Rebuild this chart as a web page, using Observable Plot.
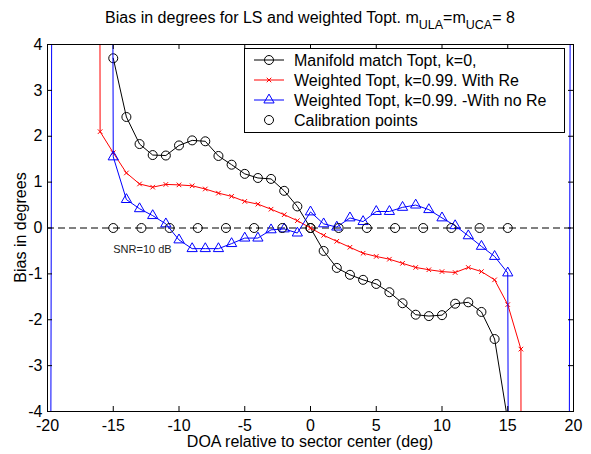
<!DOCTYPE html>
<html><head><meta charset="utf-8">
<script src="https://cdn.jsdelivr.net/npm/d3@7"></script>
<script src="https://cdn.jsdelivr.net/npm/@observablehq/plot@0.6"></script>
<style>body{margin:0;background:#fff}#chart{width:591px;height:454px}</style>
</head><body><div id="chart"></div>
<script>
// ---- data ----
const doaManifold = [-15,-14,-13,-12,-11,-10,-9,-8,-7,-6,-5,-4,-3,-2,-1,0,1,2,3,4,5,6,7,8,9,10,11,12,13,14,15];
const biasManifold = [3.70,2.42,1.83,1.59,1.58,1.80,1.91,1.89,1.57,1.38,1.18,1.09,1.07,0.81,0.47,0,-0.50,-0.87,-1.02,-1.13,-1.22,-1.40,-1.64,-1.89,-1.92,-1.90,-1.65,-1.62,-1.83,-2.42,-4.2];

const doaWithRe = [-17,-16,-15,-14,-13,-12,-11,-10,-9,-8,-7,-6,-5,-4,-3,-2,-1,0,1,2,3,4,5,6,7,8,9,10,11,12,13,14,15,16,17];
const biasWithRe = [200,2.10,1.64,1.20,0.96,0.89,0.95,0.94,0.92,0.85,0.76,0.69,0.58,0.52,0.41,0.29,0.16,0,-0.16,-0.29,-0.42,-0.55,-0.62,-0.68,-0.77,-0.86,-0.91,-0.95,-0.97,-0.86,-0.95,-1.13,-1.67,-2.64,-200];

const doaNoRe = [-20,-19,-18,-17,-16,-15,-14,-13,-12,-11,-10,-9,-8,-7,-6,-5,-4,-3,-2,-1,0,1,2,3,4,5,6,7,8,9,10,11,12,13,14,15,16,17,18,19,20];
const biasNoRe = [-40,100,100,100,100,1.55,0.62,0.42,0.27,0.09,-0.26,-0.45,-0.45,-0.45,-0.34,-0.22,-0.22,-0.04,-0.02,-0.11,0.35,0.09,0.02,0.22,0.14,0.36,0.36,0.45,0.50,0.40,0.22,0.05,-0.17,-0.40,-0.62,-0.98,-100,-100,-100,-100,40];

const doaCalib = [-15,-12.857,-10.714,-8.571,-6.429,-4.286,-2.143,0,2.143,4.286,6.429,8.571,10.714,12.857,15];
const biasCalib = [0,0,0,0,0,0,0,0,0,0,0,0,0,0,0];

const xTicks = [-20,-15,-10,-5,0,5,10,15,20];
const yTicks = [-4,-3,-2,-1,0,1,2,3,4];
const seriesNames = ["Manifold match Topt, k=0,","Weighted Topt, k=0.99. With Re","Weighted Topt, k=0.99. -With no Re","Calibration points"];
const noteText = ["SNR=10 dB"];
const noteX = [-15];
const noteY = [-0.47];

// ---- tables ----
const zip = (xs, ys) => xs.map((x, i) => ({x, y: ys[i]}));
const manifold = zip(doaManifold, biasManifold);
const withRe = zip(doaWithRe, biasWithRe);
const noRe = zip(doaNoRe, biasNoRe);
const calib = zip(doaCalib, biasCalib);
const note = noteText.map((t, i) => ({t, x: noteX[i], y: noteY[i]}));

const W = 591, H = 454, mL = 47, mR = 18, mT = 44, mB = 43;
const fw = W - mL - mR, fh = H - mT - mB, tk = 5;
const font = "'Liberation Sans', Arial, Helvetica, sans-serif";
const fmt = d => String(d);

const chart = Plot.plot({
  width: W, height: H,
  marginLeft: mL, marginRight: mR, marginTop: mT, marginBottom: mB,
  style: {fontFamily: font, fontSize: "16px", background: "white", color: "black", overflow: "visible"},
  x: {domain: [-20, 20], label: null},
  y: {domain: [-4, 4], label: null},
  marks: [
    Plot.ruleY([0], {stroke: "black", strokeWidth: 1, strokeDasharray: "7,4"}),
    Plot.line(manifold, {x: "x", y: "y", stroke: "black", strokeWidth: 1, clip: true}),
    Plot.dot(manifold, {x: "x", y: "y", r: 4.5, stroke: "black", fill: "none", strokeWidth: 1, clip: true}),
    Plot.line(withRe, {x: "x", y: "y", stroke: "#ff0000", strokeWidth: 1, clip: true}),
    Plot.dot(withRe, {x: "x", y: "y", symbol: "times", r: 2.2, stroke: "#ff0000", fill: "none", strokeWidth: 1, clip: true}),
    Plot.line(noRe, {x: "x", y: "y", stroke: "#0000ff", strokeWidth: 1, clip: true}),
    Plot.dot(noRe, {x: "x", y: "y", symbol: "triangle", r: 3.8, stroke: "#0000ff", fill: "none", strokeWidth: 1, clip: true}),
    Plot.dot(calib, {x: "x", y: "y", r: 4.5, stroke: "black", fill: "none", strokeWidth: 1}),
    Plot.text(note, {x: "x", y: "y", text: "t", textAnchor: "start", fontSize: 11, fill: "#222"}),
    Plot.frame({stroke: "black", strokeWidth: 1}),
    Plot.tickX(xTicks, {x: d => d, insetTop: fh - tk, stroke: "black"}),
    Plot.tickX(xTicks, {x: d => d, insetBottom: fh - tk, stroke: "black"}),
    Plot.tickY(yTicks, {y: d => d, insetRight: fw - tk, stroke: "black"}),
    Plot.tickY(yTicks, {y: d => d, insetLeft: fw - tk, stroke: "black"}),
    Plot.axisX({ticks: xTicks, tickSize: 0, tickPadding: 8, tickFormat: fmt, fontSize: 16, label: null}),
    Plot.axisY({ticks: yTicks, tickSize: 0, tickPadding: 5, tickFormat: fmt, fontSize: 16, label: null})
  ]
});
document.getElementById("chart").appendChild(chart);

// ---- title, axis labels, legend ----
const svg = d3.select(chart);
const cx = mL + fw / 2;
const title = svg.append("text").attr("x", cx).attr("y", 23).attr("text-anchor", "middle")
  .attr("font-family", font).attr("font-size", 16).attr("fill", "black");
title.append("tspan").text("Bias in degrees for LS and weighted Topt. m");
title.append("tspan").attr("dy", 6).attr("font-size", 12.5).text("ULA");
title.append("tspan").attr("dy", -6).text("=m");
title.append("tspan").attr("dy", 6).attr("font-size", 12.5).text("UCA");
title.append("tspan").attr("dy", -6).text("= 8");

svg.append("text").attr("x", cx).attr("y", 447).attr("text-anchor", "middle")
  .attr("font-family", font).attr("font-size", 16).text("DOA relative to sector center (deg)");
svg.append("text").attr("transform", `translate(26,${mT + fh / 2}) rotate(-90)`).attr("text-anchor", "middle")
  .attr("font-family", font).attr("font-size", 16).text("Bias in degrees");

const lg = svg.append("g");
lg.append("rect").attr("x", 244.5).attr("y", 48.5).attr("width", 320).attr("height", 84)
  .attr("fill", "white").attr("stroke", "black");
const rowY = [60, 80, 100, 120];
const cols = ["black", "#ff0000", "#0000ff", "black"];
const syms = [d3.symbolCircle, d3.symbolTimes, d3.symbolTriangle, d3.symbolCircle];
const sizes = [Math.PI * 4.5 * 4.5, Math.PI * 2.2 * 2.2, Math.PI * 3.8 * 3.8, Math.PI * 4.5 * 4.5];
seriesNames.forEach((name, i) => {
  const y = rowY[i];
  if (i < 3) lg.append("line").attr("x1", 254).attr("x2", 284).attr("y1", y).attr("y2", y)
    .attr("stroke", cols[i]).attr("stroke-width", 1);
  lg.append("path").attr("d", d3.symbol(syms[i], sizes[i])()).attr("transform", `translate(269,${y})`)
    .attr("fill", "none").attr("stroke", cols[i]).attr("stroke-width", 1);
  lg.append("text").attr("x", 294).attr("y", y).attr("dy", "0.35em").attr("text-anchor", "start")
    .attr("font-family", font).attr("font-size", 16).attr("fill", "black").text(name);
});
</script></body></html>
